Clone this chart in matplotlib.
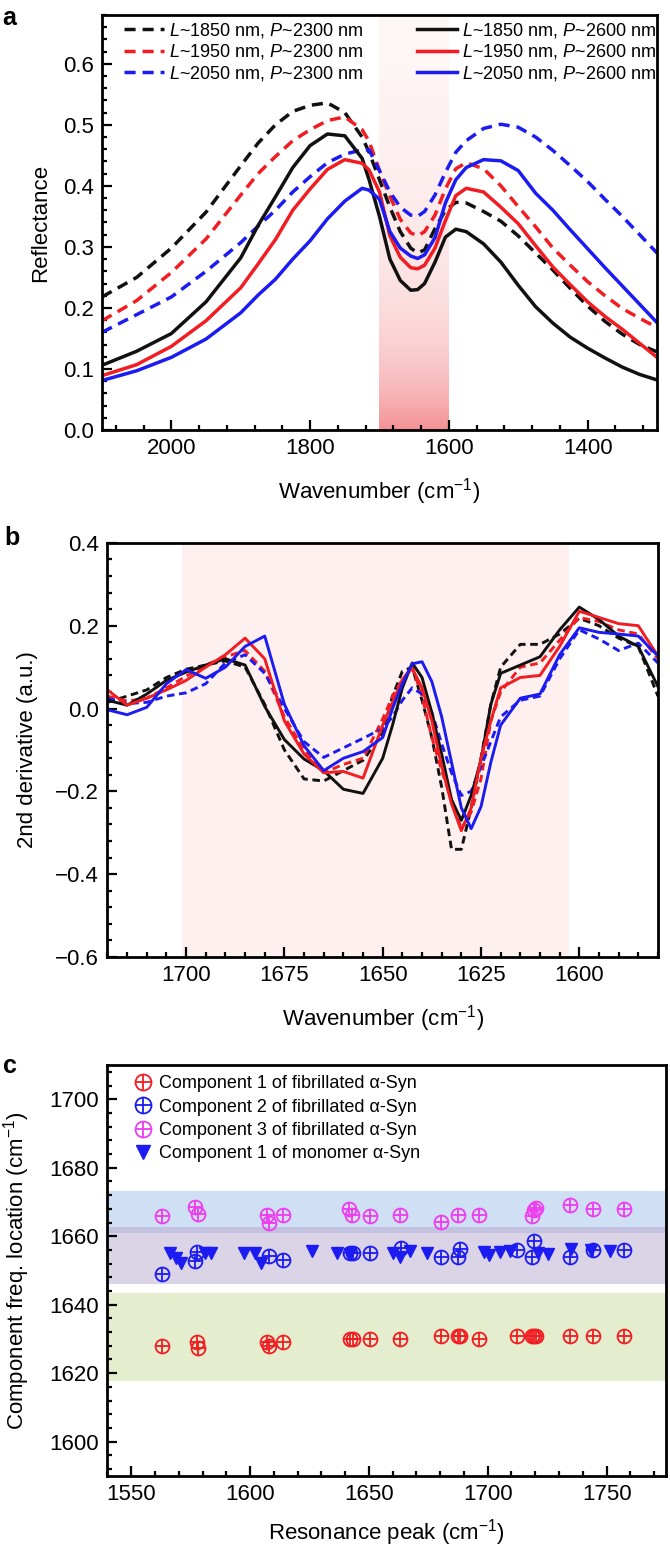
import numpy as np
import matplotlib
matplotlib.use("Agg")
import matplotlib.pyplot as plt
from matplotlib.ticker import MultipleLocator, FuncFormatter
from matplotlib.legend_handler import HandlerTuple

plt.rcParams["font.family"] = ["Liberation Sans", "DejaVu Sans"]
plt.rcParams["mathtext.fontset"] = "custom"
plt.rcParams["mathtext.rm"] = "Liberation Sans"
plt.rcParams["mathtext.it"] = "Liberation Sans:italic"
plt.rcParams["font.size"] = 16

# ---- panel a: reflectance spectra ----
wn_a = [2100, 2050, 2000, 1950, 1900, 1875, 1850, 1825, 1800, 1775, 1750, 1725, 1715,
        1700, 1685, 1670, 1655, 1645, 1635, 1620, 1605, 1590, 1575, 1550, 1525, 1500,
        1475, 1450, 1425, 1400, 1375, 1350, 1325, 1300]
r_1850_2300 = [0.218, 0.250, 0.298, 0.357, 0.433, 0.470, 0.500, 0.522, 0.532, 0.536,
               0.520, 0.480, 0.455, 0.410, 0.365, 0.325, 0.298, 0.290, 0.295, 0.330,
               0.360, 0.373, 0.372, 0.358, 0.342, 0.318, 0.290, 0.262, 0.232, 0.203,
               0.178, 0.157, 0.140, 0.128]
r_1950_2300 = [0.179, 0.212, 0.258, 0.313, 0.385, 0.420, 0.448, 0.474, 0.492, 0.507,
               0.513, 0.492, 0.473, 0.425, 0.383, 0.345, 0.323, 0.318, 0.325, 0.352,
               0.395, 0.428, 0.438, 0.428, 0.400, 0.366, 0.333, 0.298, 0.270, 0.243,
               0.220, 0.199, 0.183, 0.168]
r_2050_2300 = [0.160, 0.189, 0.218, 0.260, 0.307, 0.334, 0.360, 0.390, 0.415, 0.438,
               0.452, 0.459, 0.459, 0.425, 0.390, 0.365, 0.352, 0.350, 0.358, 0.385,
               0.422, 0.455, 0.474, 0.494, 0.501, 0.496, 0.480, 0.458, 0.433, 0.407,
               0.378, 0.350, 0.320, 0.290]
r_1850_2600 = [0.106, 0.129, 0.158, 0.210, 0.282, 0.335, 0.382, 0.430, 0.466, 0.485,
               0.482, 0.445, 0.410, 0.350, 0.280, 0.245, 0.229, 0.230, 0.240, 0.275,
               0.316, 0.329, 0.325, 0.305, 0.275, 0.237, 0.202, 0.175, 0.152, 0.134,
               0.118, 0.103, 0.091, 0.082]
r_1950_2600 = [0.089, 0.107, 0.137, 0.179, 0.233, 0.272, 0.312, 0.360, 0.395, 0.427,
               0.443, 0.437, 0.426, 0.390, 0.318, 0.283, 0.266, 0.264, 0.270, 0.298,
               0.343, 0.384, 0.396, 0.390, 0.365, 0.338, 0.302, 0.267, 0.238, 0.210,
               0.186, 0.165, 0.142, 0.119]
r_2050_2600 = [0.081, 0.097, 0.119, 0.149, 0.192, 0.221, 0.247, 0.280, 0.310, 0.346,
               0.375, 0.396, 0.393, 0.378, 0.325, 0.298, 0.285, 0.281, 0.287, 0.315,
               0.372, 0.410, 0.430, 0.443, 0.441, 0.425, 0.388, 0.360, 0.328, 0.297,
               0.266, 0.236, 0.206, 0.176]

# ---- panel b: second derivative ----
wn_b = [1720, 1715, 1710, 1705, 1700, 1695, 1690, 1685, 1680, 1675, 1670, 1665,
        1660, 1655, 1650, 1647.5, 1645, 1642.5, 1640, 1637.5, 1635, 1632.5, 1630,
        1627.5, 1625, 1622.5, 1620, 1615, 1610, 1605, 1600, 1595, 1590, 1585, 1580]
d_1850_2300 = [0.015, 0.030, 0.045, 0.075, 0.095, 0.105, 0.115, 0.100, 0.010, -0.100,
               -0.170, -0.175, -0.150, -0.125, -0.060, 0.030, 0.090, 0.100, 0.020,
               -0.070, -0.190, -0.340, -0.340, -0.240, -0.120, 0.010, 0.100, 0.155,
               0.155, 0.180, 0.218, 0.200, 0.170, 0.150, 0.030]
d_1950_2300 = [0.030, 0.018, 0.025, 0.050, 0.078, 0.105, 0.125, 0.140, 0.090, -0.020,
               -0.100, -0.155, -0.135, -0.120, -0.025, 0.030, 0.070, 0.100, 0.030,
               -0.070, -0.150, -0.220, -0.290, -0.250, -0.170, -0.030, 0.040, 0.100,
               0.110, 0.165, 0.220, 0.210, 0.190, 0.180, 0.120]
d_2050_2300 = [0.025, 0.012, 0.015, 0.030, 0.038, 0.060, 0.110, 0.130, 0.085, 0.000,
               -0.080, -0.118, -0.095, -0.072, -0.048, -0.020, 0.020, 0.050, 0.035,
               -0.010, -0.085, -0.155, -0.210, -0.200, -0.140, -0.080, -0.020, 0.020,
               0.030, 0.120, 0.190, 0.168, 0.140, 0.158, 0.110]
d_1850_2600 = [0.020, 0.008, 0.035, 0.068, 0.088, 0.105, 0.120, 0.105, 0.005, -0.075,
               -0.122, -0.150, -0.195, -0.205, -0.120, -0.040, 0.050, 0.110, 0.075,
               -0.010, -0.110, -0.220, -0.270, -0.210, -0.124, 0.010, 0.085, 0.105,
               0.125, 0.190, 0.245, 0.215, 0.175, 0.150, 0.053]
d_1950_2600 = [0.045, 0.008, 0.025, 0.045, 0.068, 0.100, 0.130, 0.170, 0.120, -0.030,
               -0.110, -0.155, -0.152, -0.168, -0.040, 0.015, 0.070, 0.097, 0.050,
               -0.030, -0.140, -0.230, -0.295, -0.240, -0.120, -0.030, 0.050, 0.075,
               0.080, 0.150, 0.235, 0.220, 0.205, 0.200, 0.127]
d_2050_2600 = [-0.003, -0.015, 0.003, 0.060, 0.094, 0.073, 0.100, 0.150, 0.175, 0.010,
               -0.090, -0.150, -0.120, -0.104, -0.070, 0.000, 0.060, 0.108, 0.113,
               0.065, -0.020, -0.130, -0.240, -0.290, -0.237, -0.130, -0.040, 0.025,
               0.035, 0.130, 0.195, 0.184, 0.180, 0.175, 0.127]

# ---- panel c: component locations vs resonance peak ----
c1_x = [1563, 1577.5, 1578, 1607, 1608, 1614, 1642, 1643.5, 1650.5, 1663, 1680.5,
        1687.5, 1688.5, 1696.5, 1712.5, 1718.5, 1719.5, 1720.5, 1734.5, 1744.5, 1757.5]
c1_y = [1628, 1629, 1627.5, 1629, 1627.8, 1629, 1630, 1630, 1630, 1630, 1631,
        1631, 1631, 1630, 1631, 1631, 1631, 1631, 1631, 1631, 1631]
c2_x = [1563, 1577.5, 1577, 1608, 1614, 1642, 1643.5, 1650.5, 1663.5, 1680.5, 1687.5,
        1688.5, 1712.5, 1719.5, 1718.5, 1734.5, 1744.5, 1757.5]
c2_y = [1649, 1655.4, 1652.8, 1654.2, 1653, 1655.2, 1655.2, 1655.2, 1656.5, 1654, 1654,
        1656.2, 1656, 1658.5, 1653.8, 1654, 1656, 1656]
c3_x = [1563, 1577, 1578, 1607, 1608, 1614, 1641.5, 1643, 1650.5, 1663, 1680.5,
        1687.5, 1696.5, 1718.5, 1719.5, 1720.5, 1734.5, 1744.5, 1757.5]
c3_y = [1666, 1668.5, 1666.5, 1666.3, 1664, 1666.2, 1668, 1666.3, 1666, 1666.2, 1664.2,
        1666.2, 1666.2, 1666, 1667.6, 1668.2, 1669, 1668, 1668]
mono_x = [1566.5, 1569, 1571, 1581, 1583.5, 1597.5, 1602, 1604.5, 1626, 1636.5, 1642,
          1660, 1663, 1667.5, 1674.5, 1698.5, 1700.5, 1705, 1709.5, 1721, 1725.5,
          1735, 1743.5, 1751.5]
mono_y = [1655, 1653.5, 1652.2, 1655, 1655, 1655, 1655, 1652.2, 1655.8, 1655.2, 1654.8,
          1655, 1654, 1655.8, 1655, 1655.5, 1654.5, 1655.5, 1655.8, 1655, 1654.8,
          1656.2, 1656, 1655.8]

BLACK = "#111111"
RED = "#f21d22"
BLUE = "#1b1bf2"
MAGENTA = "#ee3cee"


def style_axes(ax):
    for sp in ax.spines.values():
        sp.set_linewidth(2.0)
    ax.tick_params(which="both", direction="in", top=False, right=False, width=1.6)
    ax.tick_params(which="major", length=7, pad=6, labelsize=16)
    ax.tick_params(which="minor", length=3.5)


def minus(fmt):
    return FuncFormatter(lambda v, p: (fmt % v).replace("-", "\u2212"))


fig = plt.figure(figsize=(6.7, 15.45), dpi=100)

# panel a
ax1 = fig.add_axes([0.1522, 0.7217, 0.8284, 0.2686])
# shaded band: faint at top, stronger pink near the bottom
t = np.linspace(1, 0, 200)[:, None]
rgba = np.zeros((200, 1, 4))
rgba[..., 0] = 0.93
rgba[..., 1] = 0.30
rgba[..., 2] = 0.32
rgba[..., 3] = 0.04 + 0.15 * t + 0.42 * t ** 6
ax1.imshow(rgba, extent=[1700, 1600, 0, 0.68], aspect="auto", zorder=0,
           interpolation="bilinear", origin="lower")
dash = (3.2, 2.0)
ax1.plot(wn_a, r_1850_2300, color=BLACK, lw=2.5, dashes=dash,
         label=r"$\it{L}$~1850 nm, $\it{P}$~2300 nm")
ax1.plot(wn_a, r_1950_2300, color=RED, lw=2.5, dashes=dash,
         label=r"$\it{L}$~1950 nm, $\it{P}$~2300 nm")
ax1.plot(wn_a, r_2050_2300, color=BLUE, lw=2.5, dashes=dash,
         label=r"$\it{L}$~2050 nm, $\it{P}$~2300 nm")
ax1.plot(wn_a, r_1850_2600, color=BLACK, lw=2.5,
         label=r"$\it{L}$~1850 nm, $\it{P}$~2600 nm")
ax1.plot(wn_a, r_1950_2600, color=RED, lw=2.5,
         label=r"$\it{L}$~1950 nm, $\it{P}$~2600 nm")
ax1.plot(wn_a, r_2050_2600, color=BLUE, lw=2.5,
         label=r"$\it{L}$~2050 nm, $\it{P}$~2600 nm")
ax1.set_xlim(2100, 1300)
ax1.set_ylim(0, 0.68)
ax1.xaxis.set_major_locator(MultipleLocator(200))
ax1.xaxis.set_minor_locator(MultipleLocator(40))
ax1.yaxis.set_major_locator(MultipleLocator(0.1))
ax1.yaxis.set_minor_locator(MultipleLocator(0.02))
ax1.yaxis.set_major_formatter(minus("%.1f"))
style_axes(ax1)
ax1.set_xlabel("Wavenumber (cm$^{-1}$)", fontsize=16)
ax1.set_ylabel("Reflectance", fontsize=16)
ax1.xaxis.set_label_coords(0.5, -0.112)
ax1.yaxis.set_label_coords(-0.092, 0.5)
h, l = ax1.get_legend_handles_labels()
leg1 = ax1.legend(h[:3], l[:3], loc="upper left", bbox_to_anchor=(0.04, 0.985),
                  frameon=False, fontsize=13, handlelength=2.2, handletextpad=0.3,
                  labelspacing=0.12, borderpad=0, borderaxespad=0)
ax1.add_artist(leg1)
ax1.legend(h[3:], l[3:], loc="upper left", bbox_to_anchor=(0.568, 0.985),
           frameon=False, fontsize=13, handlelength=2.2, handletextpad=0.3,
           labelspacing=0.12, borderpad=0, borderaxespad=0)

# panel b
ax2 = fig.add_axes([0.1604, 0.3806, 0.8216, 0.268])
ax2.axvspan(1701, 1602.5, color="#fdf0ef", zorder=0, lw=0)
dash_b = (2.6, 1.6)
ax2.plot(wn_b, d_1850_2300, color=BLACK, lw=2.1, dashes=dash_b)
ax2.plot(wn_b, d_1950_2300, color=RED, lw=2.1, dashes=dash_b)
ax2.plot(wn_b, d_2050_2300, color=BLUE, lw=2.1, dashes=dash_b)
ax2.plot(wn_b, d_1850_2600, color=BLACK, lw=2.1)
ax2.plot(wn_b, d_1950_2600, color=RED, lw=2.1)
ax2.plot(wn_b, d_2050_2600, color=BLUE, lw=2.1)
ax2.set_xlim(1720, 1580)
ax2.set_ylim(-0.6, 0.4)
ax2.xaxis.set_major_locator(MultipleLocator(25))
ax2.xaxis.set_minor_locator(MultipleLocator(5))
ax2.yaxis.set_major_locator(MultipleLocator(0.2))
ax2.yaxis.set_minor_locator(MultipleLocator(0.04))
ax2.yaxis.set_major_formatter(minus("%.1f"))
style_axes(ax2)
ax2.set_xlabel("Wavenumber (cm$^{-1}$)", fontsize=16)
ax2.set_ylabel("2nd derivative (a.u.)", fontsize=16)
ax2.xaxis.set_label_coords(0.5, -0.112)
ax2.yaxis.set_label_coords(-0.126, 0.5)

# panel c
ax3 = fig.add_axes([0.1604, 0.0447, 0.8336, 0.266])
ax3.axhspan(1661, 1673.3, color="#a9c8ee", alpha=0.55, lw=0, zorder=0)
ax3.axhspan(1646, 1662.7, color="#b9a8cf", alpha=0.5, lw=0, zorder=0)
ax3.axhspan(1617.6, 1643.3, color="#e4edcd", lw=0, zorder=0)
ms = 10
mew = 1.3
m1o, = ax3.plot(c1_x, c1_y, "o", ms=ms, mfc="none", mec=RED, mew=mew, ls="none")
m1p, = ax3.plot(c1_x, c1_y, "+", ms=ms, mec=RED, mew=mew, ls="none")
m3o, = ax3.plot(c3_x, c3_y, "o", ms=ms, mfc="none", mec=MAGENTA, mew=mew, ls="none")
m3p, = ax3.plot(c3_x, c3_y, "+", ms=ms, mec=MAGENTA, mew=mew, ls="none")
mt, = ax3.plot(mono_x, mono_y, "v", ms=9, color=BLUE, ls="none")
m2o, = ax3.plot(c2_x, c2_y, "o", ms=ms, mfc="none", mec=BLUE, mew=mew, ls="none")
m2p, = ax3.plot(c2_x, c2_y, "+", ms=ms, mec=BLUE, mew=mew, ls="none")
ax3.set_xlim(1540, 1775)
ax3.set_ylim(1590, 1710)
ax3.xaxis.set_major_locator(MultipleLocator(50))
ax3.xaxis.set_minor_locator(MultipleLocator(10))
ax3.yaxis.set_major_locator(MultipleLocator(20))
ax3.yaxis.set_minor_locator(MultipleLocator(4))
style_axes(ax3)
ax3.set_xlabel("Resonance peak (cm$^{-1}$)", fontsize=16)
ax3.set_ylabel("Component freq. location (cm$^{-1}$)", fontsize=16)
ax3.xaxis.set_label_coords(0.5, -0.1)
ax3.yaxis.set_label_coords(-0.135, 0.5)
ax3.legend([(m1o, m1p), (m2o, m2p), (m3o, m3p), mt],
           ["Component 1 of fibrillated \u03b1-Syn",
            "Component 2 of fibrillated \u03b1-Syn",
            "Component 3 of fibrillated \u03b1-Syn",
            "Component 1 of monomer \u03b1-Syn"],
           handler_map={tuple: HandlerTuple(ndivide=1)},
           loc="upper left", bbox_to_anchor=(0.044, 0.975), frameon=False,
           fontsize=13, handlelength=1.2, handletextpad=0.3, labelspacing=0.35,
           borderpad=0, borderaxespad=0, markerscale=1.15)

# panel letters
fig.text(0.004, 1 - 6 / 1545, "a", fontsize=18, fontweight="bold", va="top")
fig.text(0.006, 1 - 526 / 1545, "b", fontsize=18, fontweight="bold", va="top")
fig.text(0.004, 1 - 1054 / 1545, "c", fontsize=18, fontweight="bold", va="top")

fig.savefig("out.png", dpi=100)
